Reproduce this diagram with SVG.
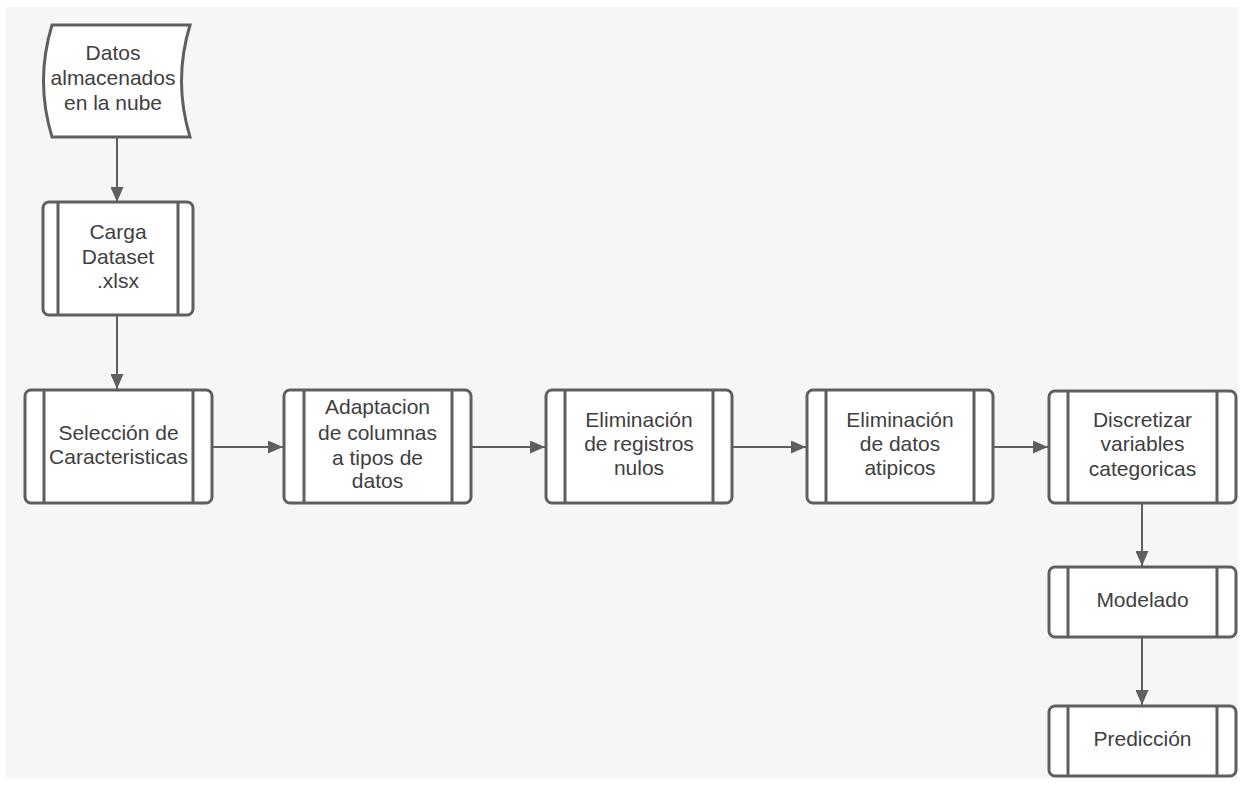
<svg xmlns="http://www.w3.org/2000/svg" width="1250" height="785" viewBox="0 0 1250 785">
<style>
.box{fill:#ffffff;stroke:#5f5f5f;stroke-width:3}
.bar{stroke:#5f5f5f;stroke-width:3;fill:none}
.lbl{font-family:"Liberation Sans",Arial,sans-serif;font-size:21px;fill:#404040;text-anchor:middle}
.edge{stroke:#5f5f5f;stroke-width:2;fill:none;marker-end:url(#ah)}
</style>
<defs>
<marker id="ah" viewBox="0 0 15 13" refX="15" refY="6.5" markerWidth="15" markerHeight="13" markerUnits="userSpaceOnUse" orient="auto">
<path d="M0,0 L15,6.5 L0,13 Z" fill="#5f5f5f"/>
</marker>
</defs>
<rect x="0" y="0" width="1250" height="785" fill="#ffffff"/>
<rect x="6" y="7" width="1232" height="771" fill="#f6f6f6"/>

<g id="connectors">
<path class="edge" d="M117,138 L117,202"/>
<path class="edge" d="M117,316 L117,389"/>
<path class="edge" d="M213,447 L283,447"/>
<path class="edge" d="M472,447 L545,447"/>
<path class="edge" d="M733,447 L806,447"/>
<path class="edge" d="M994,447 L1048,447"/>
<path class="edge" d="M1142,504 L1142,566"/>
<path class="edge" d="M1142,638 L1142,705"/>
</g>

<g id="n-datos">
<path class="box" d="M52,25 L190,25 Q173,81 190,137 L52,137 Q35,81 52,25 Z"/>
<text class="lbl"><tspan x="113" y="60">Datos</tspan><tspan x="113" y="85">almacenados</tspan><tspan x="113" y="110">en la nube</tspan></text>
</g>

<g id="n-carga">
<rect class="box" x="43" y="202" width="150" height="113" rx="6"/>
<path class="bar" d="M58,202 V315 M178,202 V315"/>
<text class="lbl"><tspan x="118" y="239">Carga</tspan><tspan x="118" y="264">Dataset</tspan><tspan x="118" y="288">.xlsx</tspan></text>
</g>

<g id="n-seleccion">
<rect class="box" x="25" y="390" width="187" height="113" rx="6"/>
<path class="bar" d="M44,390 V503 M193,390 V503"/>
<text class="lbl"><tspan x="118.5" y="440">Selección de</tspan><tspan x="118.5" y="464">Caracteristicas</tspan></text>
</g>

<g id="n-adaptacion">
<rect class="box" x="284" y="390" width="187" height="113" rx="6"/>
<path class="bar" d="M304,390 V503 M452,390 V503"/>
<text class="lbl"><tspan x="377.5" y="414">Adaptacion</tspan><tspan x="377.5" y="440">de columnas</tspan><tspan x="377.5" y="465">a tipos de</tspan><tspan x="377.5" y="488">datos</tspan></text>
</g>

<g id="n-nulos">
<rect class="box" x="546" y="390" width="186" height="113" rx="6"/>
<path class="bar" d="M565,390 V503 M713,390 V503"/>
<text class="lbl"><tspan x="639" y="427">Eliminación</tspan><tspan x="639" y="451">de registros</tspan><tspan x="639" y="475">nulos</tspan></text>
</g>

<g id="n-atipicos">
<rect class="box" x="807" y="390" width="186" height="113" rx="6"/>
<path class="bar" d="M826,390 V503 M974,390 V503"/>
<text class="lbl"><tspan x="900" y="427">Eliminación</tspan><tspan x="900" y="451">de datos</tspan><tspan x="900" y="475">atipicos</tspan></text>
</g>

<g id="n-discretizar">
<rect class="box" x="1049" y="391" width="187" height="112" rx="6"/>
<path class="bar" d="M1068,391 V503 M1217,391 V503"/>
<text class="lbl"><tspan x="1142.5" y="427">Discretizar</tspan><tspan x="1142.5" y="451">variables</tspan><tspan x="1142.5" y="476">categoricas</tspan></text>
</g>

<g id="n-modelado">
<rect class="box" x="1049" y="567" width="187" height="70" rx="6"/>
<path class="bar" d="M1068,567 V637 M1217,567 V637"/>
<text class="lbl" x="1142.5" y="607">Modelado</text>
</g>

<g id="n-prediccion">
<rect class="box" x="1049" y="706" width="187" height="70" rx="6"/>
<path class="bar" d="M1068,706 V776 M1217,706 V776"/>
<text class="lbl" x="1142.5" y="746">Predicción</text>
</g>
</svg>
